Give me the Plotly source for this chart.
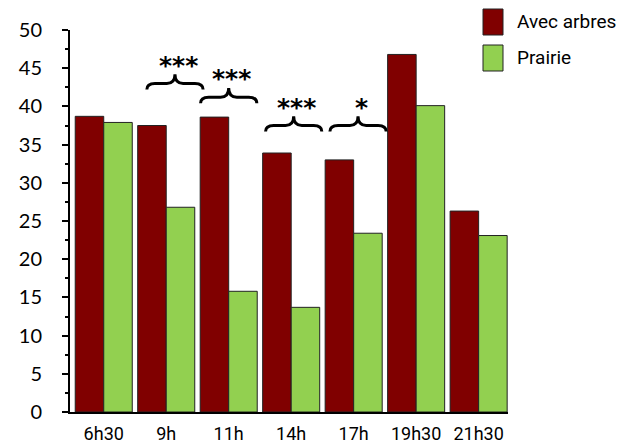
import plotly.graph_objects as go

# Observation times and mean values for the two sites
heures = ["6h30", "9h", "11h", "14h", "17h", "19h30", "21h30"]
avec_arbres = [38.7, 37.5, 38.6, 33.9, 33.0, 46.8, 26.3]
prairie = [37.9, 26.8, 15.8, 13.7, 23.4, 40.1, 23.1]
series_names = ["Avec arbres", "Prairie"]

# Significance marks: index of the time slot and the label above its brace
sig_index = [1, 2, 3, 4]
sig_labels = ["***", "***", "***", "*"]

# Brace drawing parameters (centre shift, end height)
brace_shift = [0.14, 0.0, 0.04, 0.07]
brace_end = [42.2, 40.4, 36.7, 36.7]
brace_half = 0.45

COL_TREES = "#800000"
COL_GRASS = "#92D050"
TEXT_FAMILY = "Roboto"

x = list(range(len(heures)))

fig = go.Figure()
fig.add_trace(go.Bar(x=x, y=avec_arbres, name=series_names[0],
                     marker=dict(color=COL_TREES, line=dict(color="#222222", width=1))))
fig.add_trace(go.Bar(x=x, y=prairie, name=series_names[1],
                     marker=dict(color=COL_GRASS, line=dict(color="#222222", width=1))))


def brace_path(xc, y_end, half):
    """Horizontal curly brace opening downward, in data coordinates."""
    y_bar = y_end + 0.8
    y_peak = y_end + 2.0
    xl, xr = xc - half, xc + half
    d = 0.13
    return (f"M {xl},{y_end} Q {xl},{y_bar} {xl + d},{y_bar} "
            f"L {xc - d},{y_bar} Q {xc},{y_bar} {xc},{y_peak} "
            f"Q {xc},{y_bar} {xc + d},{y_bar} "
            f"L {xr - d},{y_bar} Q {xr},{y_bar} {xr},{y_end}")


shapes = []
annotations = []
for i, lab, sh, ye in zip(sig_index, sig_labels, brace_shift, brace_end):
    xc = i + sh
    shapes.append(dict(type="path", xref="x", yref="y", path=brace_path(xc, ye, brace_half),
                       line=dict(color="black", width=3)))
    annotations.append(dict(x=xc + 0.05, y=ye + 3.2, xref="x", yref="y", text=f"<b>{lab}</b>",
                            showarrow=False, font=dict(size=25, color="black",
                                                       family="DejaVu Sans"),
                            yanchor="middle"))

# Hand-placed legend with large swatches
L, R, T, B = 70, 114, 30, 35
W, H = 622 - L - R, 447 - T - B


def px(xp):
    return (xp - L) / W


def py(yp):
    return (447 - B - yp) / H


legend_font = dict(size=19, color="black", family=TEXT_FAMILY)
for (top, bot), col, name in zip([(9, 35), (45, 71)], [COL_TREES, COL_GRASS], series_names):
    shapes.append(dict(type="rect", xref="paper", yref="paper",
                       x0=px(483), x1=px(503), y0=py(bot), y1=py(top),
                       fillcolor=col, line=dict(color="#222222", width=1)))
    annotations.append(dict(x=px(515), y=py((top + bot) / 2), xref="paper", yref="paper",
                            text=name, showarrow=False, xanchor="left", yanchor="middle",
                            font=legend_font))

fig.update_layout(
    width=622, height=447,
    margin=dict(l=L, r=R, t=T, b=B, autoexpand=False),
    paper_bgcolor="white", plot_bgcolor="white",
    barmode="group", bargap=0.087, bargroupgap=0,
    showlegend=False,
    shapes=shapes, annotations=annotations,
)
fig.update_xaxes(
    range=[-0.54, 6.47], tickvals=x, ticktext=heures, automargin=False,
    showline=True, linecolor="black", linewidth=2, ticks="", showgrid=False, zeroline=False,
    tickfont=dict(size=18, color="black", family=TEXT_FAMILY),
    ticklabelstandoff=4,
)
fig.update_yaxes(
    range=[0, 50], tickvals=list(range(0, 51, 5)), automargin=False,
    showline=True, linecolor="black", linewidth=2, showgrid=False, zeroline=False,
    ticks="outside", ticklen=6, tickwidth=1.5, tickcolor="black",
    minor=dict(ticks="outside", ticklen=3, tickwidth=1.5, tickcolor="black", tick0=0, dtick=2.5),
    tickfont=dict(size=20, color="black", family="Lato"),
    ticklabelstandoff=16,
)

fig.write_html("out.html")
